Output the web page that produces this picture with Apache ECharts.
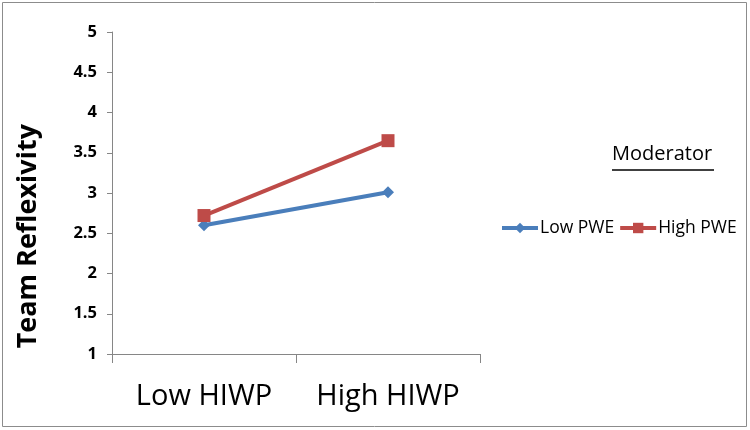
<!DOCTYPE html>
<html>
<head>
<meta charset="utf-8">
<script src="https://cdn.jsdelivr.net/npm/echarts@6/dist/echarts.min.js"></script>
<style>
  html, body { margin: 0; padding: 0; background: #fff; }
  #chart { width: 750px; height: 430px; }
</style>
</head>
<body>
<div id="chart"></div>
<script>
// data
var categories = ["Low HIWP", "High HIWP"];
var lowPWE = [2.6, 3.01];
var highPWE = [2.72, 3.65];

var myChart = echarts.init(document.getElementById("chart"));
var option = {
  backgroundColor: "#fff",
  textStyle: { fontFamily: "Open Sans" },
  grid: { left: 112, top: 32, right: 270, bottom: 76 },
  legend: {
    left: 495,
    top: 214,
    itemWidth: 36,
    itemHeight: 13,
    itemGap: 4,
    lineStyle: { width: 4 },
    textStyle: { fontSize: 17.5, color: "#000", padding: [0, 0, 0, -3] },
    data: ["Low PWE", "High PWE"],
  },
  graphic: [
    {
      type: "text",
      left: 15,
      top: 124,
      rotation: Math.PI / 2,
      style: {
        text: "Team Reflexivity",
        font: "bold 27px 'Open Sans'",
        fill: "#000",
      },
    },
    {
      type: "text",
      left: 612,
      top: 144,
      style: {
        text: "Moderator",
        font: "20px 'Open Sans'",
        fill: "#000",
      },
    },
    {
      // underline of the legend title
      type: "line",
      shape: { x1: 612, y1: 170, x2: 714, y2: 170 },
      style: { stroke: "#000", lineWidth: 1.5 },
    },
    {
      // outer chart border
      type: "rect",
      shape: { x: 2.5, y: 2.5, width: 744, height: 424 },
      style: { fill: "none", stroke: "#8c8c8c", lineWidth: 1 },
      z: -1,
    },
  ],
  xAxis: {
    type: "category",
    data: categories,
    boundaryGap: true,
    axisLine: { lineStyle: { color: "#868686", width: 1 } },
    axisTick: { show: true, interval: 0, length: 9, lineStyle: { color: "#868686" } },
    axisLabel: { interval: 0, hideOverlap: false, fontSize: 29, color: "#000", margin: 28 },
    splitLine: { show: false },
  },
  yAxis: {
    type: "value",
    min: 1,
    max: 5,
    interval: 0.5,
    axisLine: { show: true, lineStyle: { color: "#868686", width: 1 } },
    axisTick: { show: true, length: 5, lineStyle: { color: "#868686" } },
    axisLabel: { fontSize: 16.5, fontWeight: "bold", color: "#000", margin: 15 },
    splitLine: { show: false },
  },
  series: [
    {
      name: "Low PWE",
      type: "line",
      data: lowPWE,
      symbol: "diamond",
      symbolSize: 12,
      lineStyle: { width: 4, color: "#4a7ebb" },
      itemStyle: { color: "#4a7ebb" },
    },
    {
      name: "High PWE",
      type: "line",
      data: highPWE,
      symbol: "rect",
      symbolSize: 13,
      lineStyle: { width: 4, color: "#be4b48" },
      itemStyle: { color: "#be4b48" },
    },
  ],
};
myChart.setOption(option);
</script>
</body>
</html>
